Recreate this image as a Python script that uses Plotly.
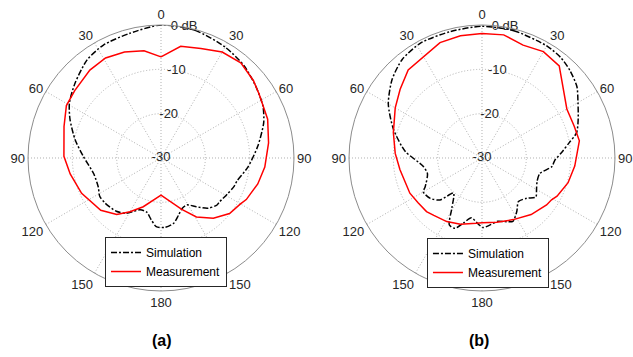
import plotly.graph_objects as go

# ---------------- data (angle in degrees clockwise from top, value in dB) ----------------
theta_a_sim = [0, 15, 30, 42, 53, 63, 71, 83, 96, 107, 111, 119, 127, 130, 137, 144, 151, 157,
               163, 169, 177, 184, 189, 195, 202, 212, 220, 231, 238, 245, 257, 271, 282, 293,
               301, 311, 323, 333, 346, 360]
r_a_sim = [0.0, -0.2, -1.1, -2.0, -3.2, -4.2, -5.5, -8.0, -10.3, -12.1, -12.3, -13.0, -13.5, -13.5,
           -14.5, -16.4, -17.9, -17.7, -16.5, -15.0, -14.3, -14.5, -15.9, -17.4, -17.4, -15.3,
           -14.3, -13.8, -13.7, -14.4, -14.4, -12.5, -10.2, -7.7, -5.9, -4.3, -2.3, -1.4, -1.0, 0.0]

theta_a_meas = [0, 10, 20, 30, 40, 50, 57, 70, 82, 95, 105, 116, 120, 129, 139, 149, 158, 180,
                200, 210, 218, 229, 246, 260, 271, 288, 299, 308, 321, 331, 341, 351, 360]
r_a_meas = [-7.2, -4.4, -3.7, -2.4, -2.0, -2.8, -3.6, -4.4, -5.5, -6.5, -7.4, -8.6, -9.3, -10.1,
            -12.0, -14.5, -17.5, -21.6, -18.3, -16.0, -13.8, -12.0, -10.4, -9.2, -8.1, -7.0, -5.6,
            -5.3, -4.5, -4.2, -4.7, -5.5, -7.2]

theta_b_sim = [0, 14, 30, 38, 45, 53, 60, 68, 75, 80, 86, 92, 97, 105, 113, 120, 126, 132, 140,
               147, 154, 159, 166, 173, 179, 183, 190, 196, 201, 206, 211, 219, 225, 232, 240,
               243, 254, 262, 275, 288, 300, 311, 321, 332, 346, 360]
r_b_sim = [-0.3, -0.4, -0.8, -1.2, -2.0, -3.2, -5.0, -6.6, -7.9, -10.0, -12.0, -13.6, -14.1, -16.5,
           -16.5, -15.8, -15.0, -16.4, -17.2, -15.6, -14.1, -14.6, -15.3, -14.8, -14.3, -15.0,
           -16.3, -14.7, -13.0, -13.2, -16.8, -19.8, -16.6, -15.2, -14.7, -15.6, -17.2, -16.6,
           -12.6, -9.0, -5.6, -3.1, -1.4, -0.6, -0.6, -0.3]

theta_b_meas = [0, 10, 20, 30, 40, 60, 71, 80, 95, 106, 117, 121, 126, 139, 153, 167, 180, 185,
                198, 209, 220, 226, 235, 244, 262, 273, 286, 300, 310, 320, 340, 350, 360]
r_b_meas = [-1.9, -1.8, -2.9, -2.3, -2.9, -7.9, -8.0, -7.7, -9.0, -9.8, -11.0, -11.7, -12.0, -13.1,
            -14.4, -15.1, -15.4, -15.2, -14.3, -13.6, -13.1, -12.6, -12.4, -11.9, -11.3, -10.4,
            -9.2, -7.4, -5.9, -4.1, -2.3, -2.0, -1.9]

angle_ticks = [0, 30, 60, 90, 120, 150, 180, 210, 240, 270, 300, 330]
angle_labels = ["0", "30", "60", "90", "120", "150", "180", "150", "120", "90", "60", "30"]
radial_ticks = [-30, -20, -10, 0]
radial_labels = ["-30", "-20", "-10", "0 dB"]
series_names = ["Simulation", "Measurement"]
panel_labels = ["(a)", "(b)"]

# ---------------- styling ----------------
FONT = "Arial, 'Liberation Sans', sans-serif"
TXT = "#262626"
GRID = "#b0b0b0"
GRID_DASH = "1px,2px"
LABEL_ANGLE = 10  # direction along which radial labels are written

fig = go.Figure()

panels = [
    ("polar", "legend", theta_a_sim, r_a_sim, theta_a_meas, r_a_meas),
    ("polar2", "legend2", theta_b_sim, r_b_sim, theta_b_meas, r_b_meas),
]
for sp, lg, ts, rs, tm, rm in panels:
    fig.add_trace(go.Scatterpolar(theta=ts, r=rs, mode="lines", name=series_names[0],
                                  line=dict(color="black", width=1.5, dash="6px,2px,2px,2px",
                                            shape="spline", smoothing=0.7),
                                  subplot=sp, legend=lg))
    fig.add_trace(go.Scatterpolar(theta=tm, r=rm, mode="lines", name=series_names[1],
                                  line=dict(color="#ff0000", width=1.5),
                                  subplot=sp, legend=lg))
    fig.add_trace(go.Scatterpolar(theta=[LABEL_ANGLE] * len(radial_ticks), r=radial_ticks,
                                  mode="text", text=radial_labels, textposition="middle center",
                                  textfont=dict(size=13, color=TXT, family=FONT),
                                  showlegend=False, hoverinfo="skip", cliponaxis=False,
                                  subplot=sp))


def polar_cfg(x0, x1):
    return dict(
        domain=dict(x=[x0, x1], y=[0.1849, 0.9300]),
        bgcolor="white",
        angularaxis=dict(rotation=90, direction="clockwise", tickmode="array",
                         tickvals=angle_ticks, ticktext=angle_labels,
                         showline=True, linecolor="#8c8c8c", linewidth=1,
                         showgrid=True, gridcolor=GRID, griddash=GRID_DASH, gridwidth=1,
                         ticks="", tickfont=dict(size=13, color=TXT, family=FONT)),
        radialaxis=dict(range=[-30, 0], tickmode="array", tickvals=radial_ticks,
                        showticklabels=False, showline=False, ticks="",
                        showgrid=True, gridcolor=GRID, griddash=GRID_DASH, gridwidth=1,
                        angle=90),
    )


def legend_cfg(x, y):
    return dict(x=x, y=y, xanchor="left", yanchor="top", bgcolor="white",
                bordercolor="#262626", borderwidth=1, tracegroupgap=0,
                font=dict(size=12, color="black", family=FONT))


fig.update_layout(
    width=633, height=357,
    margin=dict(l=0, r=0, t=0, b=0),
    paper_bgcolor="white",
    font=dict(family=FONT, color=TXT),
    polar=polar_cfg(0.0442, 0.4645),
    polar2=polar_cfg(0.5513, 0.9716),
    legend=legend_cfg(0.1659, 0.3361),
    legend2=legend_cfg(0.6745, 0.3333),
    annotations=[
        dict(text="<b>%s</b>" % panel_labels[0], x=0.2559, y=0.0476, xref="paper", yref="paper",
             xanchor="center", yanchor="middle", showarrow=False,
             font=dict(size=16, color="black", family=FONT)),
        dict(text="<b>%s</b>" % panel_labels[1], x=0.7567, y=0.0476, xref="paper", yref="paper",
             xanchor="center", yanchor="middle", showarrow=False,
             font=dict(size=16, color="black", family=FONT)),
    ],
)

fig.write_html("out.html")
